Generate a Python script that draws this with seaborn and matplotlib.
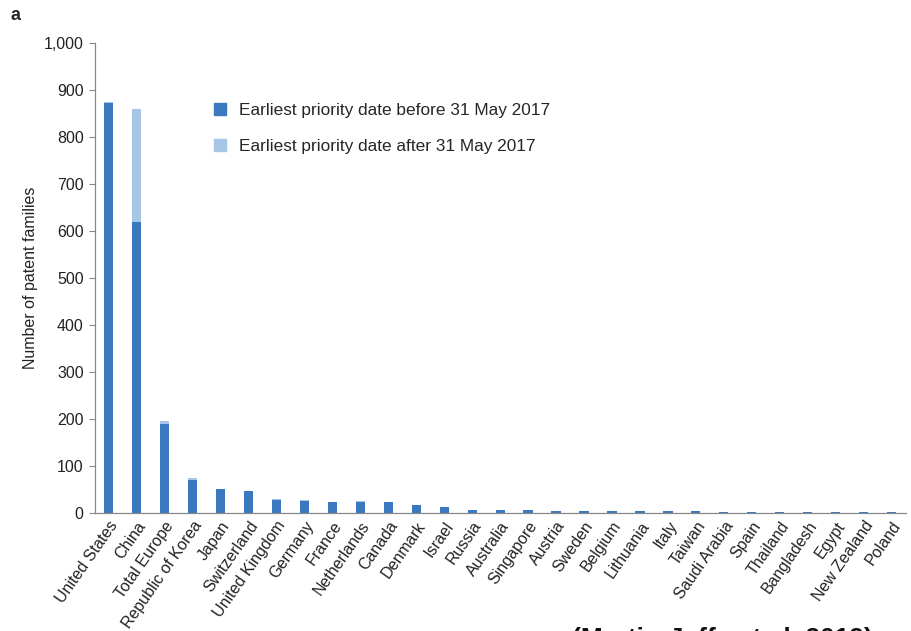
import matplotlib
matplotlib.use("Agg")
import matplotlib.pyplot as plt
import seaborn as sns
import pandas as pd
from matplotlib.lines import Line2D

countries = ["United States", "China", "Total Europe", "Republic of Korea", "Japan",
             "Switzerland", "United Kingdom", "Germany", "France", "Netherlands",
             "Canada", "Denmark", "Israel", "Russia", "Australia", "Singapore",
             "Austria", "Sweden", "Belgium", "Lithuania", "Italy", "Taiwan",
             "Saudi Arabia", "Spain", "Thailand", "Bangladesh", "Egypt",
             "New Zealand", "Poland"]
before = [872, 619, 189, 70, 50, 47, 28, 26, 23, 23, 23, 18, 12, 7, 7, 7,
          5, 5, 5, 5, 5, 5, 3, 3, 3, 3, 3, 3, 3]
after = [3, 241, 6, 5, 0, 0, 2, 2, 0, 2, 0, 0, 0, 0, 0, 0,
         0, 0, 0, 0, 0, 0, 0, 0, 0, 0, 0, 0, 0]
yticks = [0, 100, 200, 300, 400, 500, 600, 700, 800, 900, 1000]

dark = "#3a78c0"
light = "#a6c6e6"

sns.set_theme(style="white")
plt.rcParams['font.family'] = ['Liberation Sans', 'DejaVu Sans']

df = pd.DataFrame({"country": countries, "before": before,
                   "total": [b + a for b, a in zip(before, after)]})

fig = plt.figure(figsize=(9.11, 6.31), dpi=100)
ax = fig.add_axes([0.104, 0.187, 0.890, 0.745])

sns.barplot(data=df, x="country", y="total", color=light, width=0.33,
            saturation=1, linewidth=0, ax=ax)
sns.barplot(data=df, x="country", y="before", color=dark, width=0.33,
            saturation=1, linewidth=0, ax=ax)

ax.set_xlim(-0.5, len(countries) - 0.5)
ax.set_ylim(0, 1000)
ax.set_yticks(yticks)
ax.set_yticklabels([f"{v:,}" for v in yticks], fontsize=11.5, color="#222222")
ax.set_xlabel("")
ax.set_ylabel("Number of patent families", fontsize=11.5, color="#222222", labelpad=4)
ax.set_xticks(range(len(countries)))
ax.set_xticklabels(countries, rotation=55, ha="right", rotation_mode="anchor",
                   fontsize=11.5, color="#222222")
ax.tick_params(axis="x", length=0, pad=4)
ax.tick_params(axis="y", length=4, width=0.8, color="#888888", left=True, pad=4)

for s in ["top", "right"]:
    ax.spines[s].set_visible(False)
for s in ["left", "bottom"]:
    ax.spines[s].set_color("#888888")
    ax.spines[s].set_linewidth(0.9)

handles = [Line2D([], [], marker="s", linestyle="", markersize=8, color=dark),
           Line2D([], [], marker="s", linestyle="", markersize=8, color=light)]
ax.legend(handles, ["Earliest priority date before 31 May 2017",
                    "Earliest priority date after 31 May 2017"],
          loc="upper left", bbox_to_anchor=(0.125, 0.905), frameon=False,
          fontsize=12.4, handletextpad=0.6, labelspacing=1.2, handlelength=1.0)

fig.text(0.012, 0.975, "a", fontsize=13, fontweight="bold", va="center")
fig.text(0.628, 0.007, "(Martin-Jaffe et al. 2019)", fontsize=19,
         fontweight="bold", va="top", ha="left", color="#111111")

fig.savefig("out.png", dpi=100)
